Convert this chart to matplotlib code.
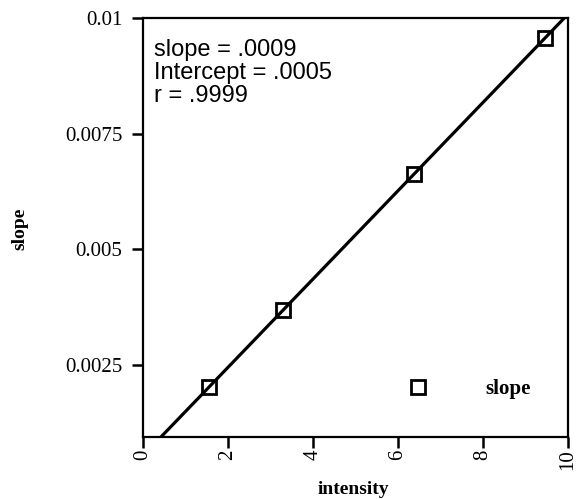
import numpy as np
import matplotlib
matplotlib.use("Agg")
import matplotlib.pyplot as plt

# data
intensity = [1.56, 3.30, 6.37, 9.46]
slope = [0.00203, 0.00368, 0.00664, 0.00957]
xticks = [0, 2, 4, 6, 8, 10]
yticks = [0.0025, 0.005, 0.0075, 0.01]
ytick_labels = ["0.0025", "0.005", "0.0075", "0.01"]
stats = ["slope = .0009", "Intercept = .0005", "r = .9999"]

serif = "Liberation Serif"
sans = "Liberation Sans"

fig = plt.figure(figsize=(5.78, 4.99), dpi=100)
ax = fig.add_axes([0.2474, 0.1242, 0.7353, 0.8388])

# fitted line through the points
m, b = np.polyfit(intensity, slope, 1)
xl = np.array([0, 10.0])
ax.plot(xl, m * xl + b, color="black", lw=2.3, zorder=2)
ax.plot(intensity, slope, ls="none", marker="s", ms=9.8, mfc="none",
        mec="black", mew=2, label="slope", zorder=3)

ax.set_xlim(0, 10)
ax.set_ylim(0.00094, 0.01)
ax.set_xticks(xticks)
ax.set_xticklabels([str(t) for t in xticks], rotation=90, fontfamily=serif, fontsize=15)
ax.set_yticks(yticks)
ax.set_yticklabels(ytick_labels, fontfamily=serif, fontsize=15)
ax.tick_params(direction="out", width=1.8)
ax.tick_params(axis="x", length=8, pad=1)
ax.tick_params(axis="y", length=8, pad=7)
for s in ax.spines.values():
    s.set_linewidth(1.6)

ax.set_xlabel("intensity", fontfamily=serif, fontweight="bold", fontsize=14, va="baseline")
ax.xaxis.set_label_coords(0.494, -0.136)
ax.set_ylabel("slope", fontfamily=serif, fontweight="bold", fontsize=14)
ax.yaxis.set_label_coords(-0.2706, 0.497)

ax.text(0.026, 0.952, "\n".join(stats), transform=ax.transAxes, va="top", ha="left",
        fontfamily=sans, fontsize=17, linespacing=1.08)

leg = ax.legend(loc="center left", bbox_to_anchor=(0.6235, 0.114), frameon=False,
                handletextpad=2.7, handlelength=1.0, borderpad=0, borderaxespad=0,
                prop={"family": serif, "weight": "bold", "size": 15})

fig.savefig("out.png", dpi=100)
